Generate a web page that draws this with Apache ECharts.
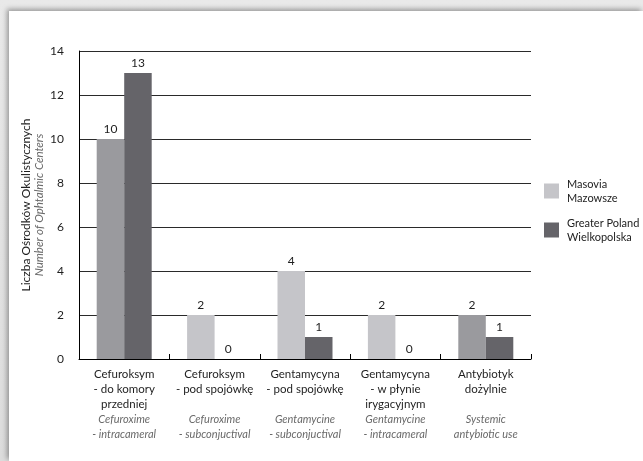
<!DOCTYPE html>
<html>
<head>
<meta charset="utf-8">
<script src="https://cdn.jsdelivr.net/npm/echarts@6/dist/echarts.min.js"></script>
<style>
  html, body { margin: 0; padding: 0; width: 643px; height: 461px; overflow: hidden; }
  body { background: linear-gradient(#e9e9e9, #dcdcdc); position: relative; }
  #panel {
    position: absolute; left: 9px; top: 11px; right: 0; bottom: 0;
    background: #fff;
    box-shadow: -2px -2px 5px rgba(0,0,0,0.35);
  }
  #chart { position: absolute; left: 0; top: 0; width: 643px; height: 461px; }
</style>
</head>
<body>
<div id="panel"></div>
<div id="chart"></div>
<script>
// Categories: Polish name (three lines, blank-padded) and English gloss
const categoriesPl = [
  ['Cefuroksym', '- do komory', 'przedniej'],
  ['Cefuroksym', '- pod spojówkę', ''],
  ['Gentamycyna', '- pod spojówkę', ''],
  ['Gentamycyna', '- w płynie', 'irygacyjnym'],
  ['Antybiotyk', 'dożylnie', '']
];
const categoriesEn = [
  ['Cefuroxime', '- intracameral'],
  ['Cefuroxime', '- subconjuctival'],
  ['Gentamycine', '- subconjuctival'],
  ['Gentamycine', '- intracameral'],
  ['Systemic', 'antybiotic use']
];
const seriesNames = ['Masovia\nMazowsze', 'Greater Poland\nWielkopolska'];
const masoviaValues = [10, 2, 4, 2, 2];
const wielkopolskaValues = [13, 0, 1, 0, 1];
const yTicks = [0, 2, 4, 6, 8, 10, 12, 14];

// Bar shades: Masovia bars for the first and last groups are drawn a darker grey
const masoviaLight = '#c5c5c9';
const masoviaDark = '#9a9a9e';
const masoviaDarkGroups = [0, 4];
const wielkopolskaColor = '#656469';

const FONT = 'Lato, "Open Sans", sans-serif';

const chart = echarts.init(document.getElementById('chart'), null, { renderer: 'canvas' });

const catKeys = categoriesPl.map((_, i) => 'c' + i);

chart.setOption({
  backgroundColor: 'transparent',
  animation: false,
  textStyle: { fontFamily: FONT },
  grid: { left: 79, right: 112, top: 51, bottom: 102, containLabel: false },
  legend: {
    orient: 'vertical',
    left: 539,
    top: 172,
    itemWidth: 15,
    itemHeight: 15,
    itemGap: 11,
    icon: 'rect',
    textStyle: { fontFamily: FONT, fontSize: 11, color: '#222', lineHeight: 14, padding: [0, 0, 0, 3] },
    data: [
      { name: seriesNames[0], itemStyle: { color: masoviaLight } },
      { name: seriesNames[1], itemStyle: { color: wielkopolskaColor } }
    ]
  },
  xAxis: {
    type: 'category',
    data: catKeys,
    axisLine: { lineStyle: { color: '#000', width: 1 } },
    axisTick: { show: true, inside: true, length: 5, alignWithLabel: false, lineStyle: { color: '#000' } },
    axisLabel: {
      interval: 0,
      margin: 8,
      formatter: function (v) {
        const i = catKeys.indexOf(v);
        const pl = categoriesPl[i].map(s => '{pl|' + (s || ' ') + '}');
        const en = categoriesEn[i].map(s => '{en|' + s + '}');
        return pl.concat(en).join('\n');
      },
      rich: {
        pl: { fontFamily: FONT, fontSize: 11.5, color: '#1e1e1e', lineHeight: 15, align: 'center' },
        en: { fontFamily: FONT, fontSize: 11, fontStyle: 'italic', color: '#6a6a6a', lineHeight: 15, align: 'center' }
      }
    }
  },
  yAxis: {
    type: 'value',
    min: yTicks[0],
    max: yTicks[yTicks.length - 1],
    interval: 2,
    name: '{pl|Liczba Ośrodków Okulistycznych}\n{en|Number of Ophtalmic Centers}',
    nameLocation: 'middle',
    nameRotate: 90,
    nameGap: 33,
    nameMoveOverlap: false,
    nameTextStyle: {
      rich: {
        pl: { fontFamily: FONT, fontSize: 12, color: '#1e1e1e', lineHeight: 13 },
        en: { fontFamily: FONT, fontSize: 11.5, fontStyle: 'italic', color: '#6a6a6a', lineHeight: 13 }
      }
    },
    axisLine: { show: true, lineStyle: { color: '#000', width: 1 } },
    axisTick: { show: false },
    axisLabel: { margin: 15, fontFamily: FONT, fontSize: 12, color: '#1e1e1e' },
    splitLine: { show: true, lineStyle: { color: '#2a2a2a', width: 1 } }
  },
  series: [
    {
      name: seriesNames[0],
      type: 'bar',
      barWidth: 27.5,
      barGap: '0%',
      data: masoviaValues.map((v, i) => ({
        value: v,
        itemStyle: { color: masoviaDarkGroups.includes(i) ? masoviaDark : masoviaLight }
      })),
      label: { show: true, position: 'top', distance: 4, fontFamily: FONT, fontSize: 12, color: '#1e1e1e' }
    },
    {
      name: seriesNames[1],
      type: 'bar',
      barWidth: 27.5,
      barGap: '0%',
      itemStyle: { color: wielkopolskaColor },
      data: wielkopolskaValues,
      label: { show: true, position: 'top', distance: 4, fontFamily: FONT, fontSize: 12, color: '#1e1e1e' }
    }
  ]
});
</script>
</body>
</html>
